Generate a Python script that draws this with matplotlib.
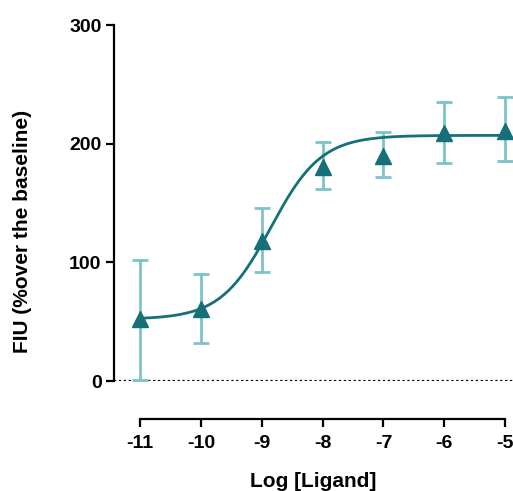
import numpy as np
import matplotlib
matplotlib.use("Agg")
import matplotlib.pyplot as plt

plt.rcParams['font.family'] = ['Liberation Sans', 'DejaVu Sans']
plt.rcParams['font.weight'] = 'bold'

# data
log_ligand = [-11, -10, -9, -8, -7, -6, -5]
fiu_mean = [52, 61, 118, 180, 190, 209, 211]
err_upper = [102, 90, 146, 201, 210, 235, 239]
err_lower = [1, 32, 92, 162, 172, 184, 185]

# sigmoid fit parameters
fit_bottom = 52
fit_top = 207
fit_log_ec50 = -8.85
fit_hill = 1.05

dark = '#15707a'
light = '#7cc3ca'


def sigmoid(x):
    return fit_bottom + (fit_top - fit_bottom) / (1 + 10 ** ((fit_log_ec50 - x) * fit_hill))


fig = plt.figure(figsize=(5.13, 4.91), dpi=100)
ax = fig.add_axes([114 / 513, 1 - 381 / 491, 1 - 114 / 513, (381 - 25) / 491])

x = np.array(log_ligand)
y = np.array(fiu_mean)
yerr = [y - np.array(err_lower), np.array(err_upper) - y]

ax.axhline(0, color='black', linestyle=(0, (1, 1.2)), linewidth=1.6, zorder=1)
ax.errorbar(x, y, yerr=yerr, fmt='none', ecolor=light, elinewidth=2,
            capsize=6, capthick=2, clip_on=False, zorder=2)
xs = np.linspace(-11, -5, 400)
ax.plot(xs, sigmoid(xs), color=dark, linewidth=2, zorder=3)
ax.plot(x, y, linestyle='none', marker='^', markersize=11, color=dark,
        clip_on=False, zorder=4)

ax.set_xlim(-11.43, -4.87)
ax.set_ylim(0, 300)
ax.set_yticks([0, 100, 200, 300])
ax.set_xticks(log_ligand)
ax.set_xticklabels([str(v) for v in log_ligand])

for s in ['top', 'right']:
    ax.spines[s].set_visible(False)
ax.spines['left'].set_linewidth(1.6)
ax.spines['bottom'].set_linewidth(1.6)
ax.spines['bottom'].set_position(('outward', 27))
ax.spines['bottom'].set_bounds(-11, -5)
ax.tick_params(axis='both', width=1.6, length=6, labelsize=14)
ax.tick_params(axis='x', pad=6)
ax.tick_params(axis='y', pad=3)

ax.set_xlabel('Log [Ligand]', fontsize=15, fontweight='bold', labelpad=14)
ax.set_ylabel('FIU (%over the baseline)', fontsize=15, fontweight='bold', labelpad=26)
ax.yaxis.set_label_coords(-0.205, 0.42)

fig.savefig('out.png', dpi=100)
